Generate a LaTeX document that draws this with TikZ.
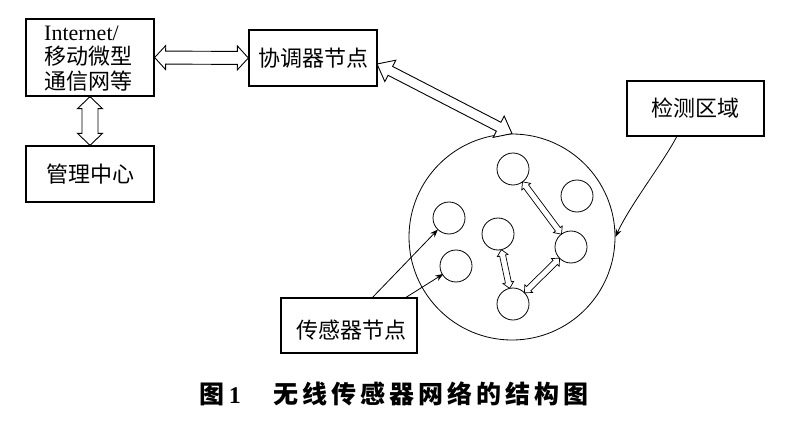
\documentclass[tikz,border=0pt]{standalone}
\usepackage{fontspec}
\setmainfont{Liberation Serif}
\newfontfamily\cjk{Noto Sans CJK SC}
\usetikzlibrary{calc,arrows.meta}
\tikzset{
  box/.style={draw, line width=1.3pt, rectangle, inner sep=0pt, font=\cjk\fontsize{22}{25}\selectfont},
  label/.style={inner sep=0pt, font=\cjk\fontsize{22}{25}\selectfont},
  hollow/.style={draw, line width=0.9pt, fill=white, line join=miter},
  smallhollow/.style={draw, line width=0.7pt, fill=white, line join=miter},
  dot/.style={circle, draw, line width=0.8pt, minimum size=32pt, inner sep=0pt},
  area/.style={circle, draw, line width=0.8pt, minimum size=206pt, inner sep=0pt},
  pointer/.style={draw, line width=0.8pt, -{Stealth[length=8pt,width=6pt]}},
}
% #1 style, #2 from, #3 to, #4 shaft half width, #5 head half width, #6 head length
\newcommand\dblarrow[6]{%
  \path let \p1=#2, \p2=#3, \n1={atan2(\y2-\y1,\x2-\x1)}, \n2={veclen(\x2-\x1,\y2-\y1)} in
    \pgfextra{\xdef\arrang{\n1}\xdef\arrlen{\n2}\xdef\arrx{\x1}\xdef\arry{\y1}};
  \begin{scope}[shift={(\arrx,\arry)}, rotate=\arrang]
    \path[#1] (0pt,0pt) -- (#6,#5) -- (#6,#4) -- (\arrlen-#6,#4) -- (\arrlen-#6,#5)
      -- (\arrlen,0pt) -- (\arrlen-#6,-#5) -- (\arrlen-#6,-#4) -- (#6,-#4) -- (#6,-#5) -- cycle;
  \end{scope}
}
\begin{document}
\begin{tikzpicture}[x=1pt,y=-1pt]
\useasboundingbox[fill=white] (0,0) rectangle (800,433);

% boxes
\node[box, minimum width=128pt, minimum height=77pt] (inet) at (90,57.5) {};
\node[label, anchor=west, align=left] (inettext) at (44,59)
  {{\rmfamily Internet/}\\[-1pt]移动微型\\通信网等};
\node[box, minimum width=128pt, minimum height=56pt] (coord) at (313,58) {协调器节点};
\node[box, minimum width=128pt, minimum height=56pt] (mgmt) at (90,174) {管理中心};
\node[box, line width=1.6pt, minimum width=137pt, minimum height=55pt] (detect) at (695.5,108.5) {检测区域};
\node[box, minimum width=136pt, minimum height=55pt] (sensor) at (349,325.5) {};
\node[label] (sensortext) at (351,330) {传感器节点};

% detection area and sensor nodes
\node[area] (region) at (512,237) {};
\node[dot] (c1) at (513,169) {};
\node[dot] (c2) at (577,196) {};
\node[dot] (c3) at (449,218) {};
\node[dot] (c4) at (498,234) {};
\node[dot] (c5) at (571,247) {};
\node[dot] (c6) at (456,266) {};
\node[dot] (c7) at (513,304) {};

% hollow double arrows
\dblarrow{hollow}{(inet.east)}{(coord.west)}{6.5pt}{12pt}{11pt}
\dblarrow{hollow}{(inet.south)}{(mgmt.north)}{8pt}{12.5pt}{12pt}
\coordinate (bigA) at (377,64);
\coordinate (bigB) at (region.north);
\dblarrow{hollow}{(bigA)}{(bigB)}{5pt}{12pt}{15pt}
\dblarrow{smallhollow}{($(c1)!16pt!(c5)$)}{($(c5)!16pt!(c1)$)}{3pt}{5.5pt}{6pt}
\dblarrow{smallhollow}{($(c4)!16pt!(c7)$)}{($(c7)!16pt!(c4)$)}{3pt}{5.5pt}{6pt}
\dblarrow{smallhollow}{($(c7)!16pt!(c5)$)}{($(c5)!16pt!(c7)$)}{3pt}{5.5pt}{6pt}

% pointers
\coordinate (s1) at (372,298);
\coordinate (s2) at (405,298);
\draw[pointer] (s1) -- ($(c3)!16pt!(s1)$);
\draw[pointer] (s2) -- ($(c6)!15pt!(s2)$);
\coordinate (d1) at (677,136);
\draw[pointer] (d1) .. controls (665,160) and (630,205) .. (region.east);

% caption
\node[font=\cjk\bfseries\fontsize{25}{27}\selectfont\addfontfeature{LetterSpace=16}] (cap) at (394,394)
  {图{\rmfamily\bfseries\fontsize{24}{26}\selectfont\,1}\hspace{1.3em}无线传感器网络的结构图};
\end{tikzpicture}
\end{document}
